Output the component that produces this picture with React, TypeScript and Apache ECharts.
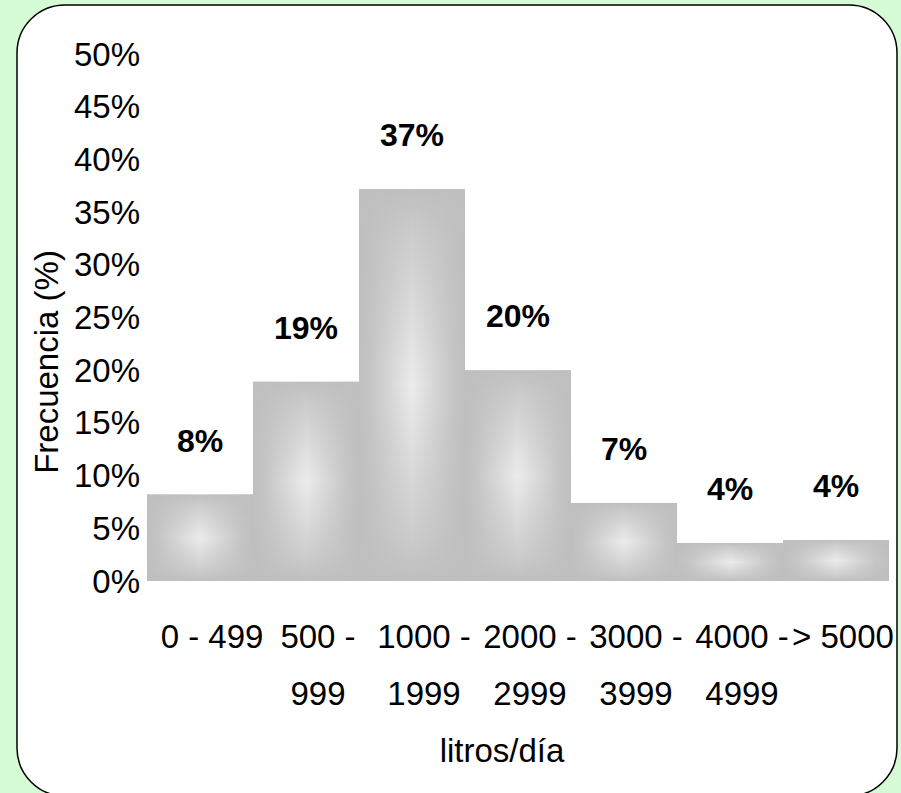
import React, { useEffect, useRef } from "react";
import * as echarts from "echarts";

const categories = ["0 - 499", "500 -\n999", "1000 -\n1999", "2000 -\n2999", "3000 -\n3999", "4000 -\n4999", "> 5000"];
const values = [8.2, 18.9, 37.2, 20.0, 7.4, 3.6, 3.9];
const yMin = 0;
const yMax = 50;
const yInterval = 5;
const yAxisTitle = "Frecuencia (%)";
const xAxisTitle = "litros/día";

const FONT = "'Liberation Sans', Arial, sans-serif";

export default function App() {
  const ref = useRef<HTMLDivElement>(null);
  useEffect(() => {
    document.body.style.margin = "0";
    if (!ref.current) return;
    const chart = echarts.init(ref.current, null, { renderer: "svg" });
    const hGrad = {
      type: "linear", x: 0, y: 0, x2: 1, y2: 0,
      colorStops: [
        { offset: 0, color: "#bfbfbf" },
        { offset: 0.12, color: "#c6c6c6" },
        { offset: 0.5, color: "#ececec" },
        { offset: 0.88, color: "#c6c6c6" },
        { offset: 1, color: "#bfbfbf" },
      ],
    };
    const vGrad = {
      type: "linear", x: 0, y: 0, x2: 0, y2: 1,
      colorStops: [
        { offset: 0, color: "rgba(191,191,191,1)" },
        { offset: 0.12, color: "rgba(191,191,191,0.7)" },
        { offset: 0.5, color: "rgba(191,191,191,0)" },
        { offset: 0.88, color: "rgba(191,191,191,0.7)" },
        { offset: 1, color: "rgba(191,191,191,1)" },
      ],
    };
    const lineStyle = { fontSize: 33, lineHeight: 57, fontFamily: FONT, color: "#000" };
    chart.setOption({
      animation: false,
      backgroundColor: "#d6fcd6",
      graphic: [
        {
          type: "rect",
          z: 0,
          shape: { x: 17, y: 5, width: 880, height: 791, r: 48 },
          style: { fill: "#ffffff", stroke: "#000000", lineWidth: 1.5 },
        },
        {
          type: "text",
          z: 1,
          x: 46,
          y: 362,
          rotation: Math.PI / 2,
          style: { text: yAxisTitle, fontSize: 33, fontFamily: FONT, fill: "#000", align: "center", verticalAlign: "middle" },
        },
        {
          type: "text",
          z: 1,
          x: 502,
          y: 750,
          style: { text: xAxisTitle, fontSize: 33, fontFamily: FONT, fill: "#000", align: "center", verticalAlign: "middle" },
        },
      ],
      grid: { left: 147, right: 12, top: 54, bottom: 212, containLabel: false },
      xAxis: {
        type: "category",
        data: categories,
        axisLine: { show: false },
        axisTick: { show: false },
        splitLine: { show: false },
        axisLabel: {
          interval: 0,
          hideOverlap: false,
          margin: 27,
          formatter: (val: string, idx: number) =>
            val.split("\n").map((l) => `{${idx === 6 ? "b" : "a"}|${l}}`).join("\n"),
          rich: {
            a: { ...lineStyle, padding: [0, 0, 0, 24] },
            b: { ...lineStyle, padding: [0, 0, 0, 14] },
          },
        },
      },
      yAxis: {
        type: "value",
        min: yMin,
        max: yMax,
        interval: yInterval,
        axisLine: { show: false },
        axisTick: { show: false },
        splitLine: { show: false },
        axisLabel: { formatter: "{value}%", fontSize: 33, fontFamily: FONT, color: "#000", margin: 7 },
      },
      series: [
        {
          type: "bar",
          data: values,
          barCategoryGap: "0%",
          barGap: "-100%",
          itemStyle: { color: hGrad },
          silent: true,
        },
        {
          type: "bar",
          data: values,
          barCategoryGap: "0%",
          barGap: "-100%",
          itemStyle: { color: vGrad },
          silent: true,
          label: {
            show: true,
            position: "top",
            distance: 38,
            fontSize: 32,
            lineHeight: 32,
            fontWeight: "bold",
            fontFamily: FONT,
            color: "#000",
            formatter: (p: any) => `${Math.round(p.value)}%`,
          },
        },
      ],
    });
    return () => chart.dispose();
  }, []);
  return <div ref={ref} style={{ width: 901, height: 793 }} />;
}
